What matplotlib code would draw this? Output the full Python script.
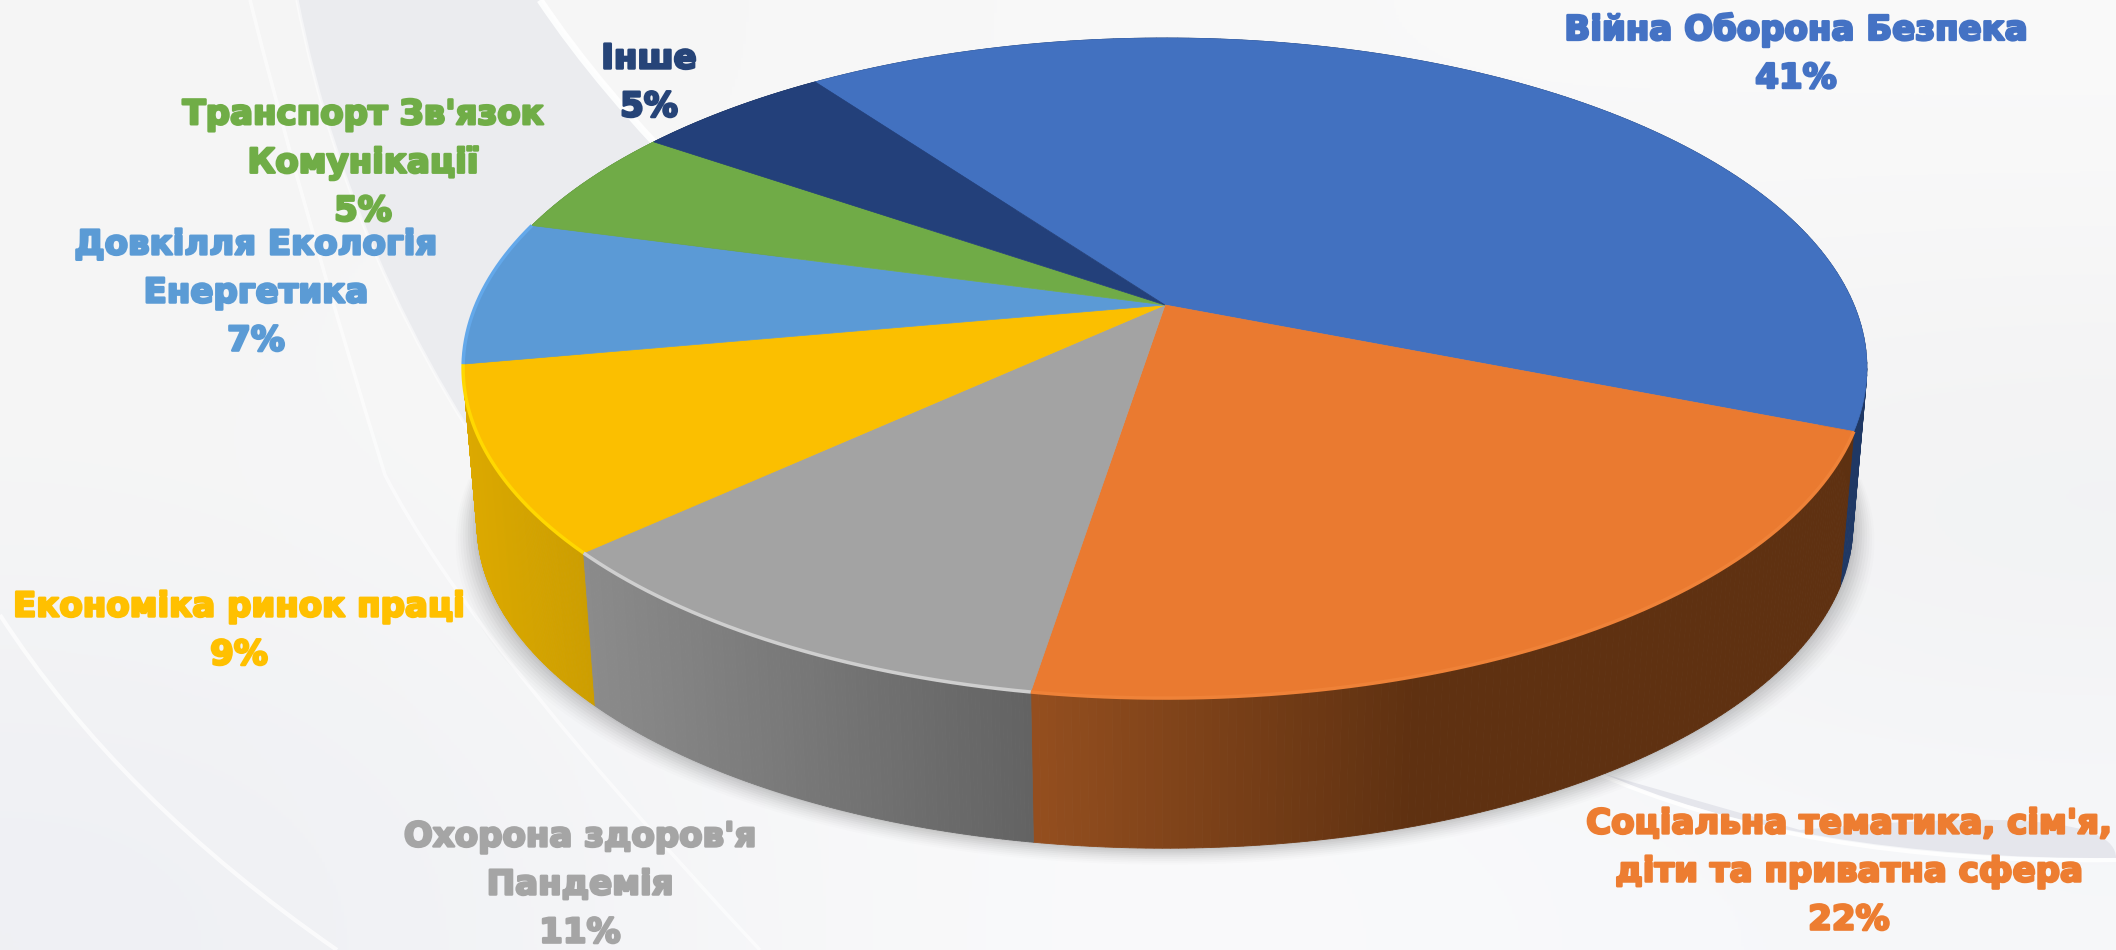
import matplotlib
matplotlib.use("Agg")
import matplotlib.pyplot as plt
import matplotlib.patheffects as pe
from matplotlib.colors import to_rgb
from matplotlib.path import Path
from matplotlib.patches import PathPatch, Polygon
import numpy as np

# 1. DATA
categories = [
    "Війна Оборона Безпека",
    "Соціальна тематика, сім'я,\nдіти та приватна сфера",
    "Охорона здоров'я\nПандемія",
    "Економіка ринок праці",
    "Довкілля Екологія\nЕнергетика",
    "Транспорт Зв'язок\nКомунікації",
    "Інше",
]
values = [41, 21.5, 10.6, 9.0, 7.1, 5.4, 5.4]

top_colors = ["#4271c0", "#ea7a30", "#a3a3a3", "#fbbf00", "#5b9ad6", "#70ab47", "#23407a"]
text_colors = ["#4472c4", "#ed7d31", "#a5a5a5", "#ffc000", "#5b9bd5", "#70ad47", "#264478"]
wall_light = ["#1f3864", "#954f1f", "#8b8b8b", "#dca900", "#4b86c0", "#55863a", "#1b3159"]
wall_dark = ["#1f3864", "#5f3111", "#636363", "#cd9e00", "#4b86c0", "#55863a", "#1b3159"]
ramp_end = [1.0, 0.47, 1.0, 1.0, 1.0, 1.0, 1.0]
rim_colors = [None, "#ef8238", "#cfcfcf", "#ffd800", "#63a8ea", None, None]

# label centres in pixels
label_xy = [(1796, 54), (1849, 872), (580, 885), (239, 631), (256, 293), (363, 163), (649, 83)]

# 2. PIE GEOMETRY (perspective view of a circle, pixels)
START_ANGLE = 125.9
CX, CY = 1165, 305
A, B, K = 689, 318, 0.191
DEPTH, SHRINK = 158, 0.98


def top_edge(theta):
    d = 1 + K * np.sin(theta)
    return CX + A * np.cos(theta) / d, CY - B * np.sin(theta) / d


def base_edge(theta):
    x, y = top_edge(theta)
    return CX + SHRINK * (x - CX), CY + SHRINK * (y - CY) + DEPTH


def curve(ax, pts, color, lw=0, alpha=1.0, z=1, closed=False):
    # smooth decoration built from quadratic segments
    codes = [Path.MOVETO] + [Path.CURVE3] * (len(pts) - 1)
    if closed:
        pts = pts + [pts[0]]
        codes = codes + [Path.LINETO]
        patch = PathPatch(Path(pts, codes), fc=color, ec="none", alpha=alpha, zorder=z)
    else:
        patch = PathPatch(Path(pts, codes), fc="none", ec=color, lw=lw, alpha=alpha, zorder=z)
    ax.add_patch(patch)


fig = plt.figure(figsize=(21.16, 9.5), dpi=100)
ax = fig.add_axes([0, 0, 1, 1])
ax.set_xlim(0, 2116)
ax.set_ylim(950, 0)
ax.axis("off")

# 3. BACKGROUND
bg = np.array([
    [[.960, .960, .960], [.975, .975, .975], [.980, .980, .980]],
    [[.965, .965, .965], [.985, .985, .985], [.940, .940, .945]],
    [[.935, .940, .955], [.990, .990, .990], [.965, .970, .980]],
])
ax.imshow(bg, extent=(0, 2116, 950, 0), aspect="auto", interpolation="bicubic", zorder=0)
curve(ax, [(297, 0), (355, 300), (560, 560), (700, 400), (700, 190), (600, 90), (540, 0)],
      "#ebecef", z=1, closed=True)
curve(ax, [(297, 0), (355, 300), (560, 560)], "white", lw=2.5, alpha=.5, z=2)
curve(ax, [(250, 0), (300, 200), (385, 475), (470, 640), (760, 950)], "white", lw=2.5, alpha=.6, z=2)
curve(ax, [(540, 0), (600, 90), (700, 190)], "white", lw=5, alpha=.9, z=2)
curve(ax, [(0, 615), (120, 800), (337, 950)], "white", lw=3, alpha=.7, z=2)
curve(ax, [(1590, 770), (1800, 860), (2116, 858), (2116, 800), (1800, 830)], "#e1e2e9", alpha=.8, z=1, closed=True)
curve(ax, [(1590, 770), (1800, 865), (2116, 860)], "white", lw=3, alpha=.9, z=2)

# 4. PIE
fractions = np.array(values) / sum(values)
edges = np.radians(START_ANGLE - 360 * np.concatenate(([0], np.cumsum(fractions))))

# soft shadow under the front wall
ring = np.radians(np.linspace(0, -180, 120))
for grow, a in zip(np.linspace(22, 2, 9), np.linspace(.012, .035, 9)):
    bx, by = base_edge(ring)
    sx = CX + (bx - CX) * (1 + grow / 700)
    sy = by + grow * .75
    ax.add_patch(Polygon(np.column_stack([sx, sy]), closed=True, fc="black", ec="none", alpha=a, zorder=3))

# walls, back slices first
mids = (edges[:-1] + edges[1:]) / 2
for i in np.argsort(-np.sin(mids)):
    th = np.linspace(edges[i], edges[i + 1], 140)
    tx, ty = top_edge(th)
    bx, by = base_edge(th)
    x_lo, x_hi = bx.min(), bx.max()
    for j in range(len(th) - 1):
        t = min(1, (bx[j] - x_lo) / ((x_hi - x_lo) * ramp_end[i]))
        c = (1 - t) * np.array(to_rgb(wall_light[i])) + t * np.array(to_rgb(wall_dark[i]))
        quad = [(tx[j], ty[j]), (tx[j + 1], ty[j + 1]), (bx[j + 1], by[j + 1]), (bx[j], by[j])]
        ax.add_patch(Polygon(quad, closed=True, fc=c, ec=c, lw=.6, zorder=4))

# top faces
for i in range(len(values)):
    th = np.linspace(edges[i], edges[i + 1], 140)
    tx, ty = top_edge(th)
    pts = np.column_stack([np.r_[CX, tx], np.r_[CY, ty]])
    ax.add_patch(Polygon(pts, closed=True, fc=top_colors[i], ec=top_colors[i], lw=.5, zorder=5))
    if rim_colors[i]:
        ax.plot(tx, ty, color=rim_colors[i], lw=2.5, solid_capstyle="butt", zorder=6)

# 5. LABELS
for name, val, xy, col in zip(categories, values, label_xy, text_colors):
    ax.text(xy[0], xy[1], f"{name}\n{val:.0f}%", ha="center", va="center", ma="center",
            color=col, fontsize=24.5, fontweight="bold", family="DejaVu Sans",
            linespacing=1.58, zorder=8,
            path_effects=[pe.withStroke(linewidth=1.8, foreground=col)])

fig.savefig("out.png", dpi=100)
